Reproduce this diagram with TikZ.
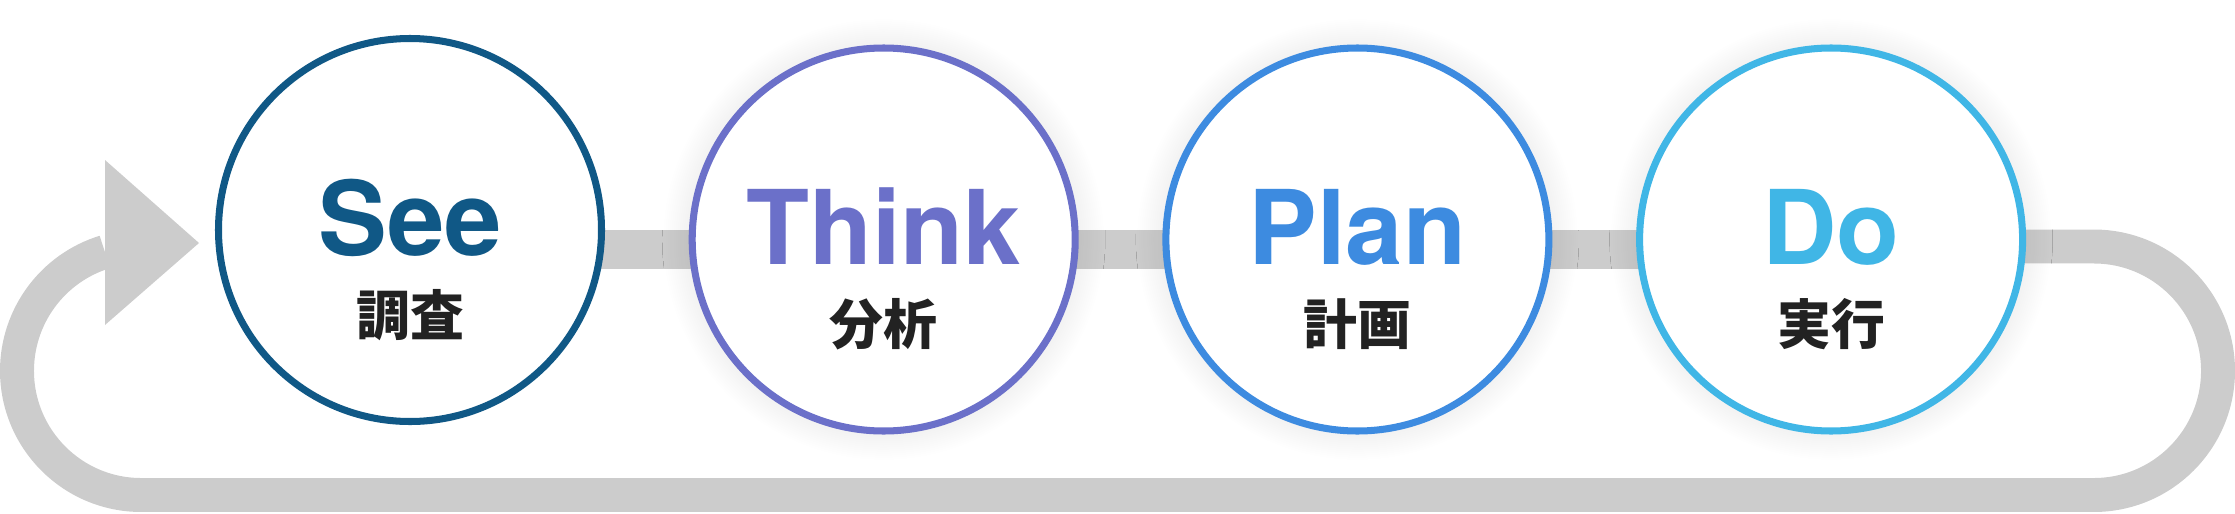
\documentclass[tikz,border=0pt]{standalone}
\usepackage{fontspec}
\usetikzlibrary{shadows.blur}
\newfontfamily\heros{TeX Gyre Heros}
\newfontfamily\jpfont{Noto Sans CJK JP}
\pgfdeclarelayer{background}
\pgfsetlayers{background,main}
\definecolor{seeblue}{HTML}{105886}
\definecolor{thinkpurple}{HTML}{6B70C9}
\definecolor{planblue}{HTML}{3D8BE0}
\definecolor{doblue}{HTML}{40B6E6}
\definecolor{loopgray}{HTML}{CCCCCC}
\definecolor{inkgray}{HTML}{222222}
\tikzstyle{ring}=[circle, draw, fill=white, line width=6pt,
  minimum size=114.9mm, inner sep=0pt]
\tikzstyle{glowring}=[ring, blur shadow={shadow xshift=0pt,
  shadow yshift=0pt, shadow blur radius=9mm, shadow blur steps=30,
  shadow opacity=12}]
\tikzstyle{entext}=[anchor=base, inner sep=0pt,
  font=\heros\bfseries\fontsize{88pt}{96pt}\selectfont]
\tikzstyle{jptext}=[anchor=base, inner sep=0pt, text=inkgray,
  font=\jpfont\bfseries\fontsize{46pt}{50pt}\selectfont]
\tikzstyle{bar} = [draw, line width=33.3pt, color=loopgray]
\tikzstyle{loopline} = [draw, line width=29pt, color=loopgray]
\newcommand{\phase}[5]{node (#1) [#2, draw=#3] {}
  +(0,25) node (#1en) [entext, text=#3] {#4}
  +(0,105) node (#1jp) [jptext] {#5}}

\begin{document}
\begin{tikzpicture}[x=0.3mm, y=-0.3mm]
  \useasboundingbox (0,0) rectangle (2235,513);

  % Draw the four phases
  \path (410,230) \phase{SEE}{ring}{seeblue}{See}{調査};
  \path (SEE.center) ++(473.7,9.5) \phase{THINK}{glowring}{thinkpurple}{Think}{分析};
  \path (THINK.center) ++(473.7,0) \phase{PLAN}{glowring}{planblue}{Plan}{計画};
  \path (PLAN.center) ++(473.7,0) \phase{DO}{glowring}{doblue}{Do}{実行};

  % Draw the band and the return loop behind the phases
  \begin{pgfonlayer}{background}
    \coordinate (BAR) at (0,249.5);
    \coordinate (RTURN) at (2093.75,246.5);
    \coordinate (LTURN) at (141.25,495);
    \path [bar] (SEE.center |- BAR) -- (DO.center |- BAR);
    \path [loopline] (DO.center |- RTURN) -- (RTURN)
      arc[start angle=-90, end angle=90, radius=124.25] -- (LTURN)
      arc[start angle=90, end angle=253, radius=124.25];
    \fill [loopgray] (105,160) -- (199,243) -- (105,325) -- cycle;
  \end{pgfonlayer}

\end{tikzpicture}
\end{document}
